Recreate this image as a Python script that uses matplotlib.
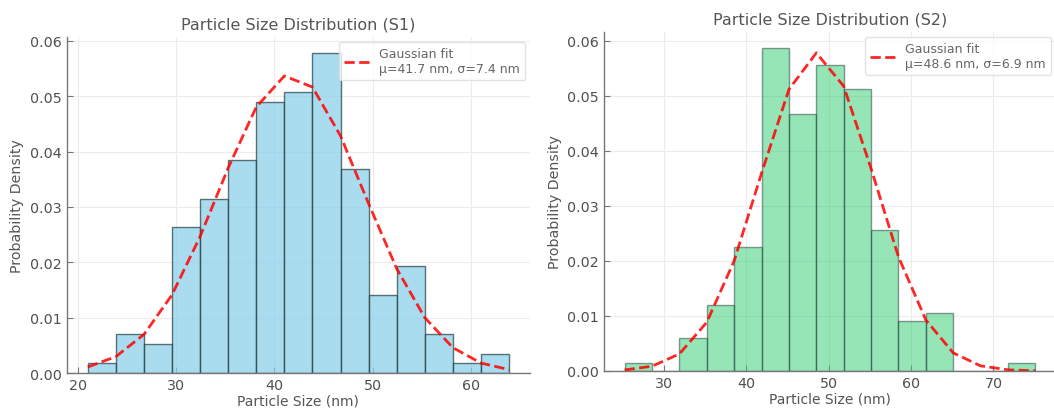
import matplotlib
matplotlib.use("Agg")
import matplotlib.pyplot as plt
import numpy as np

# ---- S1 data ----
s1_edges = [21.02, 23.875, 26.73, 29.585, 32.44, 35.295, 38.15, 41.005,
            43.86, 46.715, 49.57, 52.425, 55.28, 58.135, 60.99, 63.845]
s1_density = [0.00175, 0.0070, 0.00525, 0.0263, 0.0315, 0.0385, 0.0490, 0.0508,
              0.0578, 0.0368, 0.0140, 0.0193, 0.0070, 0.00175, 0.0035]
s1_fit = [0.00108, 0.00296, 0.00696, 0.01412, 0.02465, 0.03705, 0.04804, 0.05366,
          0.05165, 0.04283, 0.0306, 0.01886, 0.01001, 0.00458, 0.0018, 0.00061]
s1_label = "Gaussian fit\nμ=41.7 nm, σ=7.4 nm"

# ---- S2 data ----
s2_edges = [25.27, 28.59, 31.91, 35.23, 38.55, 41.875, 45.20, 48.52,
            51.84, 55.16, 58.48, 61.80, 65.12, 68.44, 71.77, 75.09]
s2_density = [0.0015, 0.0, 0.0060, 0.0120, 0.0226, 0.0587, 0.0467, 0.0557,
              0.0512, 0.0256, 0.0090, 0.0105, 0.0, 0.0, 0.0015]
s2_fit = [0.00019, 0.00086, 0.0031, 0.00884, 0.0200, 0.03595, 0.0512, 0.05782,
          0.05177, 0.03678, 0.02074, 0.00927, 0.00329, 0.00093, 0.00021, 0.00004]
s2_label = "Gaussian fit\nμ=48.6 nm, σ=6.9 nm"

xticks1 = [20, 30, 40, 50, 60]
xticks2 = [30, 40, 50, 60, 70]
yticks = [0.00, 0.01, 0.02, 0.03, 0.04, 0.05, 0.06]

fig = plt.figure(figsize=(10.54, 4.10), dpi=100)
ax1 = fig.add_axes([0.0633, 0.0878, 0.4396, 0.8195])
ax2 = fig.add_axes([0.5731, 0.0927, 0.4288, 0.827])

panels = [
    (ax1, s1_edges, s1_density, s1_fit, s1_label, "#87CEEB", 0.7,
     "Particle Size Distribution (S1)", xticks1),
    (ax2, s2_edges, s2_density, s2_fit, s2_label, "#2ecc71", 0.5,
     "Particle Size Distribution (S2)", xticks2),
]

for ax, edges, dens, fit, lab, col, alp, title, xt in panels:
    edges = np.array(edges)
    widths = np.diff(edges)
    ax.bar(edges[:-1], dens, width=widths, align="edge", color=col, alpha=alp,
           edgecolor="#1f3b3b", linewidth=1.0)
    ax.plot(edges, fit, color="red", linestyle="--", linewidth=2, alpha=0.85,
            label=lab)

    ax.set_xticks(xt)
    ax.set_yticks(yticks)
    ax.set_yticklabels(["%.2f" % v for v in yticks])
    ax.grid(True, color="#ececec", linewidth=0.8)
    ax.set_axisbelow(True)
    for s in ["top", "right"]:
        ax.spines[s].set_visible(False)
    for s in ["left", "bottom"]:
        ax.spines[s].set_color("#777777")
        ax.spines[s].set_linewidth(1.0)
    ax.tick_params(direction="in", colors="#777777", labelcolor="#505050",
                   labelsize=10.3, length=4)
    ax.set_title(title, fontsize=11.5, color="#555555", pad=6)
    ax.set_xlabel("Particle Size (nm)", fontsize=10, color="#555555", labelpad=1)
    ax.set_ylabel("Probability Density", fontsize=10.2, color="#555555")
    leg = ax.legend(loc="upper right", fontsize=9, frameon=True,
                    labelcolor="#666666", borderaxespad=0.4)
    leg.get_frame().set_edgecolor("#dddddd")

fig.savefig("out.png", dpi=100)
